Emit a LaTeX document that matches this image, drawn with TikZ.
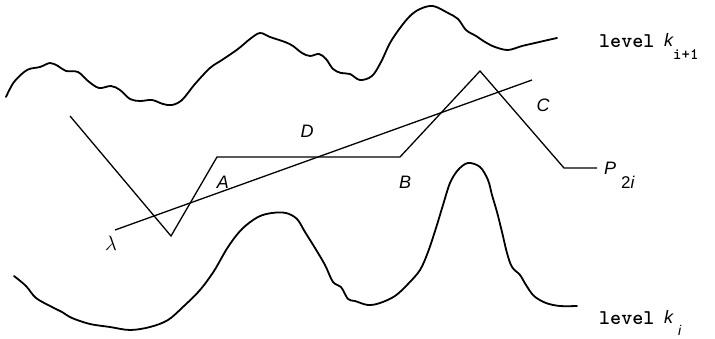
\documentclass[tikz,border=0pt]{standalone}
\usepackage{fontspec}
\setmainfont{Liberation Sans}
\begin{document}
\begin{tikzpicture}[x=1pt,y=-1pt,
  contour/.style={line width=1.8pt,line join=round,line cap=round},
  path/.style={line width=1.3pt,line join=miter},
  lbl/.style={font=\fontsize{18}{18}\selectfont\itshape,inner sep=0pt},
  lev/.style={font=\fontsize{21}{21}\selectfont\ttfamily\bfseries,inner sep=0pt,anchor=base west}]
\useasboundingbox (0,0) rectangle (715,339);
% upper contour (level k_{i+1})
\draw[contour] plot[smooth,tension=0.55] coordinates {
 (6,97) (14,82) (27,70) (40,67) (50,63) (58,66) (66,71) (78,72) (88,81) (99,88)
 (111,86) (120,90) (130,99) (140,101) (152,100) (163,104) (172,105) (182,100)
 (195,84) (210,68) (222,60) (238,49) (250,39) (260,33) (270,37) (285,42)
 (293,46) (302,53) (310,56) (319,54) (326,59) (333,69) (341,73) (350,74) (360,80)
 (372,76) (381,62) (390,43) (400,28) (410,16) (420,9) (433,6) (448,13) (458,19)
 (466,30) (476,36) (485,42) (495,47) (508,50) (522,46) (535,43) (548,40) (557,38)};
% lower contour (level k_i)
\draw[contour] plot[smooth,tension=0.55] coordinates {
 (14,276) (26,286) (36,298) (52,307) (62,312) (72,318) (90,324) (110,327)
 (130,330) (150,327) (168,320) (184,306) (200,290) (214,271) (228,247)
 (242,229) (258,217) (272,213) (286,213) (297,219) (305,232) (315,248)
 (325,265) (333,282) (341,287) (348,299) (355,301) (368,305) (380,303)
 (395,296) (408,284) (420,270) (428,252) (436,228) (443,205) (450,183)
 (458,170) (468,163) (480,167) (488,180) (492,195) (497,212) (502,232)
 (507,253) (512,267) (520,275) (526,285) (534,296) (546,303) (560,306) (577,306)};
% polygonal path
\coordinate (p0) at (70,116);
\coordinate (p1) at (171,236);
\coordinate (p2) at (217,157);
\coordinate (p3) at (400,157);
\coordinate (p4) at (480,71);
\coordinate (p5) at (564,168);
\coordinate (p6) at (597,168);
\draw[path] (p0) -- (p1) -- (p2) -- (p3) -- (p4) -- (p5) -- (p6);
% line lambda
\coordinate (l0) at (115,230);
\coordinate (l1) at (532,80);
\draw[line width=1.3pt] (l0) -- (l1);
% labels
\node[inner sep=0pt,font=\fontsize{20}{20}\selectfont] (lam) at (111,243) {$\lambda$};
\node[lbl] (A) at (223,182) {A};
\node[lbl] (B) at (405,182) {B};
\node[lbl] (C) at (543,105) {C};
\node[lbl] (D) at (307,131) {D};
\node[lbl,anchor=base west] (P) at (604,175) {P};
\node[font=\fontsize{17}{17}\selectfont,inner sep=0pt,anchor=base west] (P2) at (621,189) {2\itshape i};
\node[lev] (lu) at (599,48) {level};
\node[lbl,anchor=base west] (ku) at (664,47) {k};
\node[font=\fontsize{16}{16}\selectfont\ttfamily\bfseries,inner sep=0pt,anchor=base west] (su) at (673,60) {i+1};
\node[lev] (ll) at (599,324) {level};
\node[lbl,anchor=base west] (kl) at (664,323) {k};
\node[font=\fontsize{14}{14}\selectfont\itshape,inner sep=0pt,anchor=base west] (sl) at (678,335) {i};
\end{tikzpicture}
\end{document}
